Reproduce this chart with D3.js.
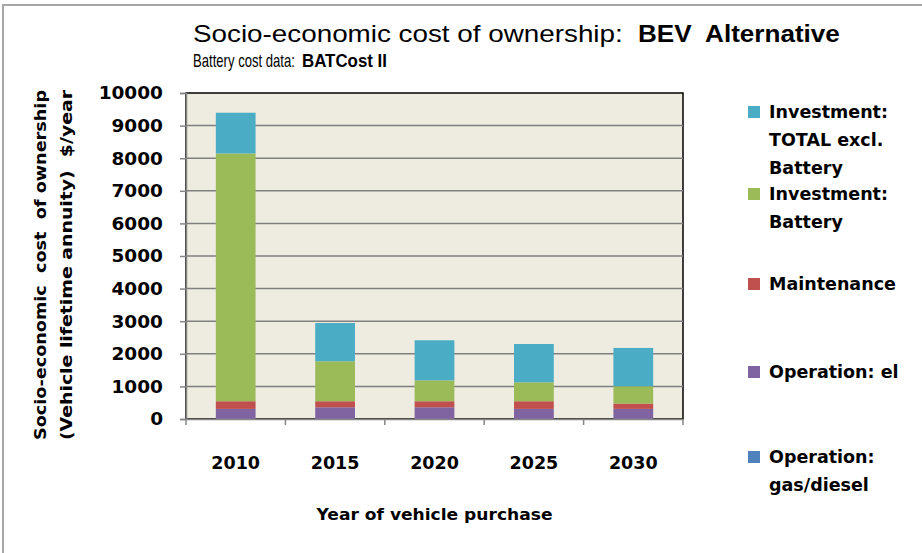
<!DOCTYPE html>
<html>
<head>
<meta charset="utf-8">
<script src="https://cdn.jsdelivr.net/npm/d3@7"></script>
<style>
  body { margin: 0; background: #fff; }
  text { font-family: 'DejaVu Sans', sans-serif; fill: #000; }
</style>
</head>
<body>
<div class="d3-content"></div>
<script>
const SVG_WIDTH = 922;
const SVG_HEIGHT = 553;
const MARGIN = { top: 93, right: 239, bottom: 134, left: 186 };
const CHART_WIDTH = SVG_WIDTH - MARGIN.left - MARGIN.right;
const CHART_HEIGHT = SVG_HEIGHT - MARGIN.top - MARGIN.bottom;

// data ($/year)
const years = ['2010', '2015', '2020', '2025', '2030'];
const opGasDiesel = [0, 0, 0, 0, 0];
const opEl = [310, 360, 360, 310, 310];
const maintenance = [235, 185, 185, 235, 165];
const invBattery = [7600, 1225, 640, 580, 530];
const invExclBattery = [1250, 1175, 1230, 1175, 1175];
const yTicks = [0, 1000, 2000, 3000, 4000, 5000, 6000, 7000, 8000, 9000, 10000];

// stack order bottom -> top
const series = [
  { key: 'gas', values: opGasDiesel, color: '#4F81BD', label: ['Operation:', 'gas/diesel'] },
  { key: 'el', values: opEl, color: '#8064A2', label: ['Operation: el'] },
  { key: 'maint', values: maintenance, color: '#C0504D', label: ['Maintenance'] },
  { key: 'bat', values: invBattery, color: '#9BBB59', label: ['Investment:', 'Battery'] },
  { key: 'excl', values: invExclBattery, color: '#4BACC6', label: ['Investment:', 'TOTAL excl.', 'Battery'] },
];

const table = years.map((y, i) => {
  const row = { year: y };
  series.forEach(s => { row[s.key] = s.values[i]; });
  return row;
});

const stacked = d3.stack().keys(series.map(s => s.key))(table);

const svg = d3.select('.d3-content')
  .append('svg')
  .attr('width', SVG_WIDTH)
  .attr('height', SVG_HEIGHT);

// outer chart frame (right/bottom edges fall outside the crop)
svg.append('rect')
  .attr('x', 3).attr('y', 5)
  .attr('width', 1000).attr('height', 1000)
  .attr('fill', '#fff')
  .attr('stroke', '#a6a6a6')
  .attr('stroke-width', 2);

const xscale = d3.scaleBand()
  .domain(years)
  .range([0, CHART_WIDTH])
  .paddingInner(0.6)
  .paddingOuter(0.3);

const yscale = d3.scaleLinear()
  .domain([0, 10000])
  .range([CHART_HEIGHT, 0]);

const chart = svg.append('g')
  .attr('transform', `translate(${MARGIN.left}, ${MARGIN.top})`);

// plot area
chart.append('rect')
  .attr('width', CHART_WIDTH)
  .attr('height', CHART_HEIGHT)
  .attr('fill', '#EEECE1')
  .attr('stroke', '#000')
  .attr('stroke-width', 1.5);

// gridlines
chart.append('g')
  .selectAll('line')
  .data(yTicks.slice(1, -1))
  .join('line')
  .attr('x1', 0).attr('x2', CHART_WIDTH)
  .attr('y1', d => yscale(d)).attr('y2', d => yscale(d))
  .attr('stroke', '#7f7f7f')
  .attr('stroke-width', 1.5);

// bars
chart.append('g')
  .selectAll('g')
  .data(stacked)
  .join('g')
  .attr('fill', (d, i) => series[i].color)
  .selectAll('rect')
  .data(d => d)
  .join('rect')
  .attr('x', d => xscale(d.data.year))
  .attr('width', xscale.bandwidth())
  .attr('y', d => yscale(d[1]))
  .attr('height', d => yscale(d[0]) - yscale(d[1]));

// y axis
const yAxis = chart.append('g')
  .call(d3.axisLeft(yscale).tickValues(yTicks).tickSize(6).tickPadding(17).tickFormat(d3.format('d')));
yAxis.select('.domain').attr('stroke', '#868686').attr('stroke-width', 1.5);
yAxis.selectAll('.tick line').attr('stroke', '#868686').attr('stroke-width', 1.5);
yAxis.selectAll('.tick text')
  .attr('font-family', 'DejaVu Sans')
  .attr('font-weight', 'bold')
  .attr('font-size', 18.5)
  .attr('fill', '#000');

// x axis: labels under bars, ticks at category boundaries
const xAxis = chart.append('g')
  .attr('transform', `translate(0, ${CHART_HEIGHT})`)
  .call(d3.axisBottom(xscale).tickSize(0).tickPadding(38));
xAxis.select('.domain').attr('stroke', '#868686').attr('stroke-width', 1.5);
xAxis.selectAll('.tick text')
  .attr('font-family', 'DejaVu Sans')
  .attr('font-weight', 'bold')
  .attr('font-size', 17.5)
  .attr('fill', '#000');

const boundaries = d3.range(years.length + 1).map(i => i * xscale.step());
xAxis.selectAll('.bound')
  .data(boundaries)
  .join('line')
  .attr('class', 'bound')
  .attr('x1', d => d).attr('x2', d => d)
  .attr('y1', 0).attr('y2', 6)
  .attr('stroke', '#868686')
  .attr('stroke-width', 1.5);

// titles, each part squeezed horizontally to its width in the reference
const titleParts = [
  { text: 'Socio-economic cost of ownership:', x: 193, y: 42, w: 430, size: 24, bold: false },
  { text: 'BEV  Alternative', x: 638, y: 42, w: 202, size: 24, bold: true },
  { text: 'Battery cost data:', x: 193, y: 67, w: 102, size: 18, bold: false },
  { text: 'BATCost II', x: 302, y: 67, w: 85, size: 18, bold: true },
];
svg.selectAll('.title')
  .data(titleParts)
  .join('text')
  .attr('class', 'title')
  .text(d => d.text)
  .attr('font-size', d => d.size)
  .attr('font-weight', d => d.bold ? 'bold' : 'normal')
  .style('white-space', 'pre')
  .style('font-family', 'Liberation Sans')
  .attr('transform', function(d) {
    const len = this.getComputedTextLength();
    return `translate(${d.x}, ${d.y}) scale(${d.w / len}, 1)`;
  });

// x-axis title
svg.append('text')
  .text('Year of vehicle purchase')
  .attr('x', MARGIN.left + CHART_WIDTH / 2)
  .attr('y', 520)
  .attr('text-anchor', 'middle')
  .attr('font-weight', 'bold')
  .attr('font-size', 16.5)
  .attr('textLength', 236)
  .attr('lengthAdjust', 'spacingAndGlyphs');

// y-axis title (two lines)
const yTitle = [
  { text: 'Socio-economic  cost  of ownership', x: 46 },
  { text: '(Vehicle lifetime annuity)  $/year', x: 72 },
];
svg.selectAll('.ytitle')
  .data(yTitle)
  .join('text')
  .attr('class', 'ytitle')
  .text(d => d.text)
  .attr('transform', d => `translate(${d.x}, 265) rotate(-90)`)
  .attr('text-anchor', 'middle')
  .attr('font-weight', 'bold')
  .attr('font-size', 16.5)
  .attr('textLength', 350)
  .attr('lengthAdjust', 'spacingAndGlyphs')
  .style('white-space', 'pre');

// legend (top series first)
const legendBase = [118, 200, 290, 378, 463];
const legend = svg.append('g');
series.slice().reverse().forEach((s, i) => {
  const y0 = legendBase[i];
  legend.append('rect')
    .attr('x', 748).attr('y', y0 - 12)
    .attr('width', 12).attr('height', 12)
    .attr('fill', s.color);
  s.label.forEach((line, j) => {
    legend.append('text')
      .text(line)
      .attr('x', 769)
      .attr('y', y0 + j * 28)
      .attr('font-weight', 'bold')
      .attr('font-size', 17.5);
  });
});
</script>
</body>
</html>
